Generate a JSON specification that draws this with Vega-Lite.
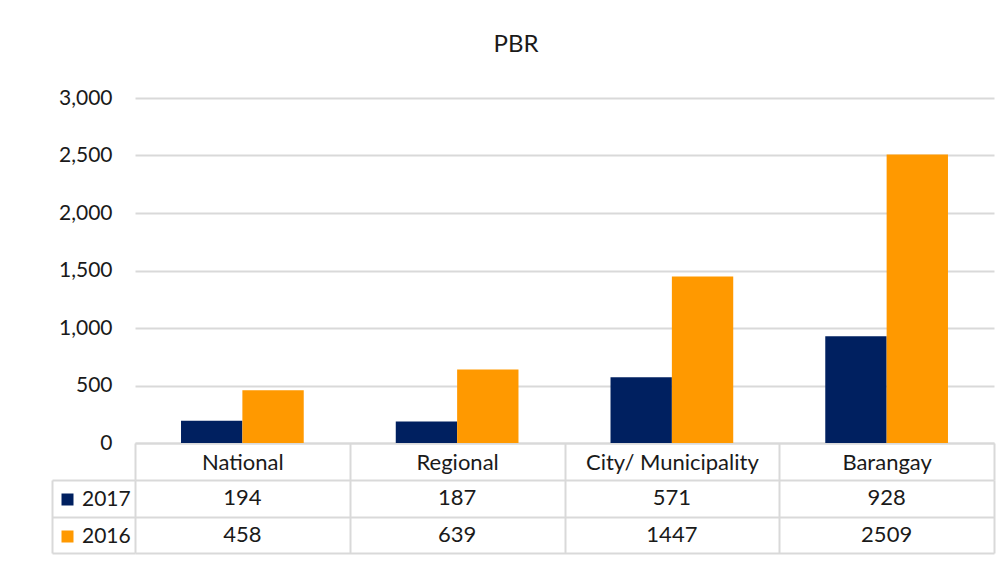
{
  "$schema": "https://vega.github.io/schema/vega-lite/v6.json",
  "background": "white",
  "padding": {"left": 51, "top": 33, "right": 5, "bottom": 5},
  "title": {"text": "PBR", "fontSize": 24, "font": "Lato", "fontWeight": "normal", "color": "#1a1a1a", "anchor": "middle", "offset": 30, "dx": -7},
  "datasets": {
    "bars": [
      {"level": "National", "year": "2017", "value": 194},
      {"level": "National", "year": "2016", "value": 458},
      {"level": "Regional", "year": "2017", "value": 187},
      {"level": "Regional", "year": "2016", "value": 639},
      {"level": "City/ Municipality", "year": "2017", "value": 571},
      {"level": "City/ Municipality", "year": "2016", "value": 1447},
      {"level": "Barangay", "year": "2017", "value": 928},
      {"level": "Barangay", "year": "2016", "value": 2509}
    ]
  },
  "bounds": "flush",
  "spacing": 37,
  "vconcat": [
    {
      "width": 859,
      "height": 345,
      "data": {"name": "bars"},
      "mark": {"type": "bar"},
      "encoding": {
        "x": {
          "field": "level", "type": "nominal",
          "sort": ["National", "Regional", "City/ Municipality", "Barangay"],
          "scale": {"paddingInner": 0, "paddingOuter": 0},
          "axis": {"title": null, "domainColor": "#d9d9d9", "domainWidth": 2, "tickBand": "extent", "tickSize": 37, "tickColor": "#d9d9d9", "tickWidth": 2, "labelPadding": -18, "labelBaseline": "middle", "labelAngle": 0, "labelFontSize": 22, "labelFont": "Lato", "labelColor": "#1a1a1a"}
        },
        "xOffset": {"field": "year", "type": "nominal", "sort": ["2017", "2016"], "scale": {"paddingOuter": 0.75, "paddingInner": 0}},
        "y": {
          "field": "value", "type": "quantitative",
          "scale": {"domain": [0, 3000]},
          "axis": {"title": null, "values": [0, 500, 1000, 1500, 2000, 2500, 3000], "format": ",d", "domain": false, "ticks": false, "labelPadding": 23, "labelFontSize": 21, "labelFont": "Lato", "labelColor": "#1a1a1a", "gridColor": "#d9d9d9", "gridWidth": 2}
        },
        "color": {
          "field": "year", "type": "nominal",
          "scale": {"domain": ["2017", "2016"], "range": ["#002060", "#ff9900"]},
          "legend": {"orient": "none", "legendX": -78, "legendY": 391, "title": null, "symbolType": "square", "symbolSize": 144, "symbolStrokeWidth": 0, "labelFontSize": 21, "labelFont": "Lato", "labelColor": "#1a1a1a", "labelOffset": 4, "rowPadding": 15, "padding": 0}
        }
      }
    },
    {
      "width": 859,
      "height": 73,
      "data": {"name": "bars"},
      "layer": [
        {
          "mark": {"type": "text", "font": "Lato", "fontSize": 22, "color": "#1a1a1a"},
          "encoding": {
            "x": {
              "field": "level", "type": "nominal",
              "sort": ["National", "Regional", "City/ Municipality", "Barangay"],
              "scale": {"paddingInner": 0, "paddingOuter": 0},
              "axis": {"title": null, "orient": "top", "labels": false, "ticks": false, "domain": false, "grid": true, "tickBand": "extent", "gridColor": "#d9d9d9", "gridWidth": 2}
            },
            "y": {
              "field": "year", "type": "nominal", "sort": ["2017", "2016"],
              "scale": {"paddingInner": 0, "paddingOuter": 0},
              "axis": {"title": null, "orient": "left", "labels": false, "domain": false, "grid": true, "tickBand": "extent", "gridColor": "#d9d9d9", "gridWidth": 2, "ticks": true, "tickSize": 83, "tickColor": "#d9d9d9", "tickWidth": 2}
            },
            "text": {"field": "value", "type": "quantitative", "format": "d"}
          }
        },
        {
          "mark": {"type": "text", "opacity": 0},
          "encoding": {
            "x": {
              "field": "level", "type": "nominal",
              "sort": ["National", "Regional", "City/ Municipality", "Barangay"],
              "scale": {"paddingInner": 0, "paddingOuter": 0},
              "axis": {"title": null, "orient": "top", "labels": false, "ticks": false, "domain": false, "grid": true, "tickBand": "extent", "gridColor": "#d9d9d9", "gridWidth": 2}
            },
            "y": {
              "field": "year", "type": "nominal", "sort": ["2017", "2016"],
              "scale": {"paddingInner": 0, "paddingOuter": 0},
              "axis": {"title": null, "orient": "left", "offset": 83, "labels": false, "ticks": false, "grid": false, "domain": true, "domainColor": "#d9d9d9", "domainWidth": 2}
            },
            "text": {"value": ""}
          }
        }
      ],
      "resolve": {"axis": {"y": "independent"}}
    }
  ],
  "config": {"view": {"stroke": null}}
}
